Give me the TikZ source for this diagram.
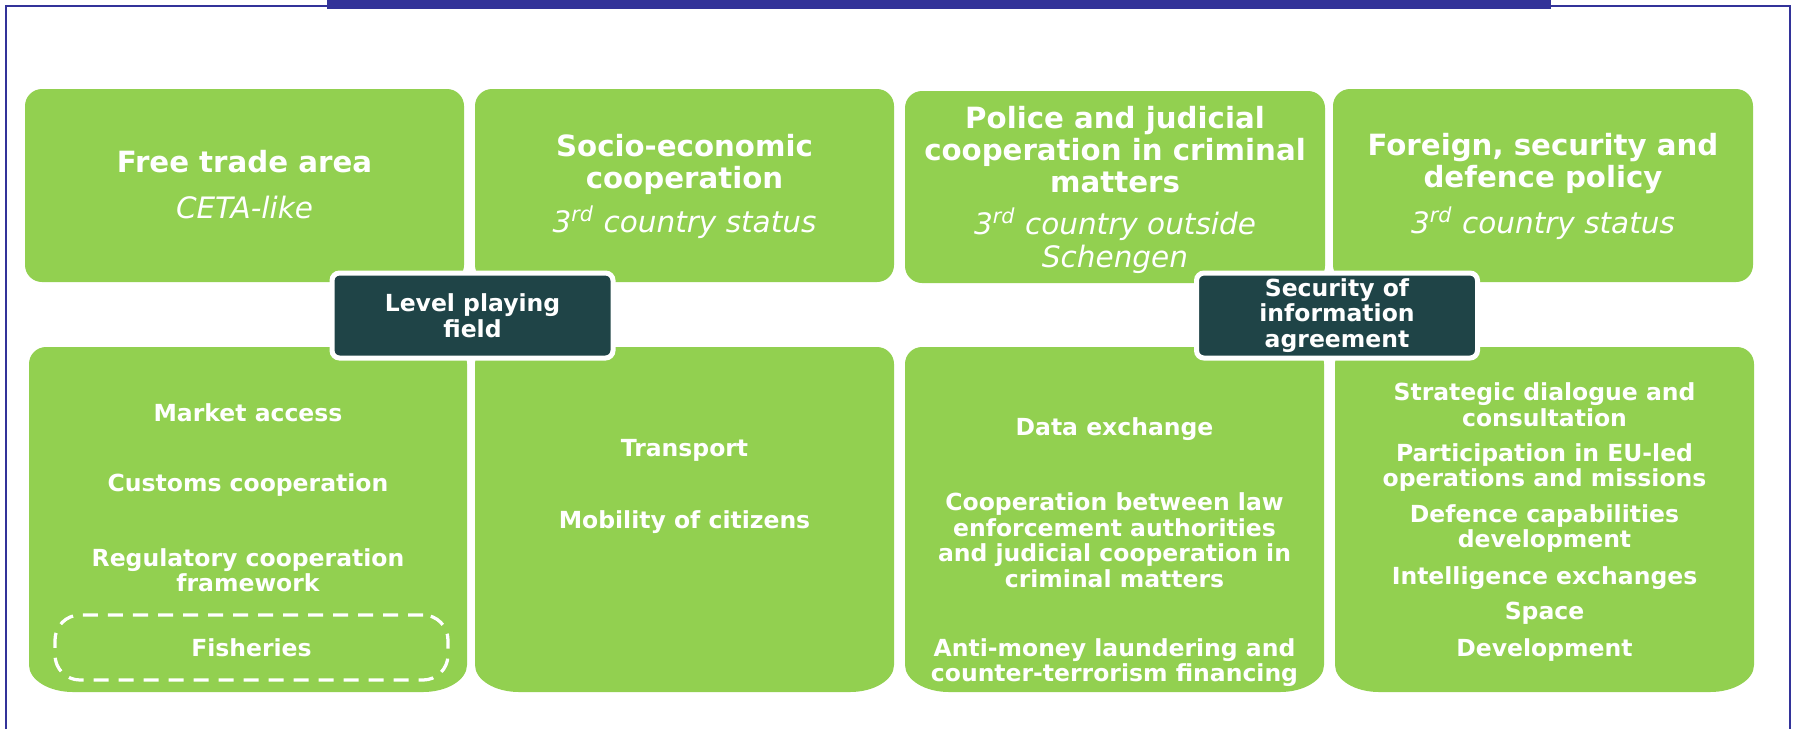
\documentclass[tikz,border=0pt]{standalone}
\usepackage{fontspec}
\setmainfont{DejaVu Sans}
\definecolor{lgreen}{HTML}{92D050}
\definecolor{dteal}{HTML}{1F4447}
\definecolor{fblue}{HTML}{333399}
\newcommand\lowbox[4]{\fill[lgreen] (#1,{#2+17}) -- (#1,{#4-27}) .. controls (#1,{#4-12}) and ({#1+20},#4) .. ({#1+44},#4) -- ({#3-44},#4) .. controls ({#3-20},#4) and (#3,{#4-12}) .. (#3,{#4-27}) -- (#3,{#2+17}) .. controls (#3,{#2+7.6}) and ({#3-7.6},#2) .. ({#3-17},#2) -- ({#1+17},#2) .. controls ({#1+7.6},#2) and (#1,{#2+7.6}) .. (#1,{#2+17}) -- cycle;}
\begin{document}
\begin{tikzpicture}[x=0.4pt,y=-0.4pt,
  topbox/.style={fill=lgreen, rounded corners=6.8pt},
  title/.style={text=white, font=\bfseries\fontsize{11.7}{12.8}\selectfont, align=center, inner sep=0pt},
  sub/.style={text=white, font=\itshape\fontsize{11.8}{13.2}\selectfont, align=center, inner sep=0pt},
  item/.style={text=white, font=\bfseries\fontsize{9.4}{10.2}\selectfont, align=center, inner sep=0pt},
  darkbox/.style={fill=dteal, draw=white, line width=2pt, rounded corners=3pt, text=white,
    font=\bfseries\fontsize{9.4}{10.2}\selectfont, align=center, inner sep=0pt,
    minimum width=112.4pt, minimum height=34pt},
  fishbox/.style={draw=white, line width=1.3pt, dash pattern=on 6pt off 4pt, rounded corners=10pt,
    text=white, font=\bfseries\fontsize{9.4}{10.2}\selectfont, inner sep=0pt,
    minimum width=157.2pt, minimum height=26pt},
  frame/.style={draw=fblue, line width=1pt}]
\useasboundingbox (0,0) rectangle (1794,729);
\fill[white] (0,0) rectangle (1794,729);
% frame
\draw[frame] (6,729) -- (6,6) -- (327,6);
\draw[frame] (1551,6) -- (1790,6) -- (1790,729);
\fill[fblue] (327,0) rectangle (1551,9);
% top boxes
\fill[topbox] (25,89) rectangle (464,282);
\fill[topbox] (475,89) rectangle (894,282);
\fill[topbox] (905,91) rectangle (1325,283);
\fill[topbox] (1333,89) rectangle (1753,282);
% bottom boxes
\lowbox{29}{347}{467}{692}
\lowbox{475}{347}{894}{692}
\lowbox{905}{347}{1324}{692}
\lowbox{1335}{347}{1754}{692}
% dark boxes
\node[darkbox] (lpf) at (472.5,315.5) {Level playing\\field};
\node[darkbox] (soi) at (1337,315.5) {Security of\\information\\agreement};
% titles
\node[title] (t1) at (244.5,162) {Free trade area};
\node[sub] (s1) at (244.5,207) {CETA-like};
\node[title] (t2) at (684.5,164) {Socio-economic\\cooperation};
\node[sub] (s2) at (684.5,222) {3\textsuperscript{rd} country status};
\node[title] (t3) at (1115,149.5) {Police and judicial\\cooperation in criminal\\matters};
\node[sub] (s3) at (1115,240.5) {3\textsuperscript{rd} country outside\\Schengen};
\node[title] (t4) at (1543,164) {Foreign, security and\\defence policy};
\node[sub] (s4) at (1543,223) {3\textsuperscript{rd} country status};
% column 1
\node[item] (a1) at (248,413) {Market access};
\node[item] (a2) at (248,485) {Customs cooperation};
\node[item] (a3) at (248,570) {Regulatory cooperation\\framework};
\node[fishbox] (a4) at (251.5,647.5) {Fisheries};
% column 2
\node[item] (b1) at (684.5,450) {Transport};
\node[item] (b2) at (684.5,522) {Mobility of citizens};
% column 3
\node[item] (c1) at (1114.5,429) {Data exchange};
\node[item] (c2) at (1114.5,540) {Cooperation between law\\enforcement authorities\\and judicial cooperation in\\criminal matters};
\node[item] (c3) at (1114.5,662.5) {Anti-money laundering and\\counter-terrorism financing};
% column 4
\node[item] (d1) at (1544.5,404.5) {Strategic dialogue and\\consultation};
\node[item] (d2) at (1544.5,467.5) {Participation in EU-led\\operations and missions};
\node[item] (d3) at (1544.5,528.5) {Defence capabilities\\development};
\node[item] (d4) at (1544.5,578) {Intelligence exchanges};
\node[item] (d5) at (1544.5,613) {Space};
\node[item] (d6) at (1544.5,650) {Development};
\end{tikzpicture}
\end{document}
